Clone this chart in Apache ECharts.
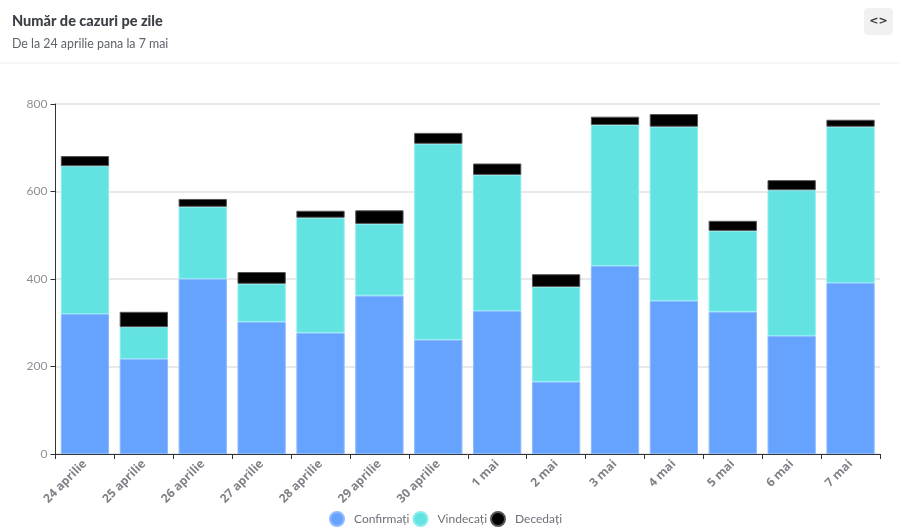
<!DOCTYPE html>
<html><head><meta charset="utf-8">
<script src="https://cdn.jsdelivr.net/npm/echarts@6/dist/echarts.min.js"></script>
<style>html,body{margin:0;padding:0;background:#fff}#c{width:900px;height:527px}</style>
</head><body><div id="c"></div>
<script>
const categories = ['24 aprilie','25 aprilie','26 aprilie','27 aprilie','28 aprilie','29 aprilie','30 aprilie','1 mai','2 mai','3 mai','4 mai','5 mai','6 mai','7 mai'];
const confirmati = [320,217,400,302,277,362,261,327,165,430,350,325,270,391];
const vindecati = [338,73,165,87,263,164,448,311,217,322,398,185,333,357];
const decedati = [23,35,18,27,16,31,25,26,29,19,29,23,23,16];
const font = 'Lato';
const chart = echarts.init(document.getElementById('c'), null, {renderer:'canvas'});
const barStyle = (c,b) => ({color:c, borderColor:b, borderWidth:1});
chart.setOption({
  animation:false,
  textStyle:{fontFamily:font},
  title:{text:'Număr de cazuri pe zile', subtext:'De la 24 aprilie pana la 7 mai', left:12, top:14, padding:0, itemGap:9,
    textStyle:{fontFamily:font,fontSize:14.5,fontWeight:900,color:'#3d4047'},
    subtextStyle:{fontFamily:font,fontSize:12.4,color:'#5f636b'}},
  graphic:[
    {type:'rect',shape:{x:0,y:62.5,width:900,height:1},style:{fill:'#eeeef3'},silent:true},
    {type:'rect',shape:{x:864,y:8,width:29,height:27,r:4},style:{fill:'#f1f1f2'},silent:true},
    {type:'text',x:878.5,y:21.5,style:{text:'<>',fontFamily:'DejaVu Sans',fontWeight:'bold',fontSize:11,fill:'#33363c',align:'center',verticalAlign:'middle'},silent:true}
  ],
  legend:{top:506,left:324,icon:'circle',itemWidth:24,itemHeight:14,itemGap:3,
    data:['Confirmați','Vindecați','Decedați'],
    textStyle:{fontFamily:font,fontSize:12,color:'#6e7079'}},
  grid:{left:55.5,right:20,top:104,bottom:73,containLabel:false},
  xAxis:{type:'category',data:categories,
    axisLine:{lineStyle:{color:'#333',width:1}},
    axisTick:{show:true,alignWithLabel:false,length:5,lineStyle:{color:'#333'}},
    axisLabel:{rotate:45,interval:0,fontFamily:'Open Sans',fontWeight:'bold',fontSize:12,color:'#808188',margin:8}},
  yAxis:{type:'value',min:0,max:800,interval:200,
    axisLine:{show:true,lineStyle:{color:'#333',width:1}},
    axisTick:{show:true,length:5,lineStyle:{color:'#333'}},
    axisLabel:{fontFamily:font,fontSize:12,color:'#8f9096',margin:8},
    splitLine:{lineStyle:{color:'#e2e2e2',width:1.5}}},
  series:[
    {name:'Confirmați',type:'bar',stack:'t',barWidth:'82%',data:confirmati,itemStyle:barStyle('#66a3ff','#8dbaff')},
    {name:'Vindecați',type:'bar',stack:'t',barWidth:'82%',data:vindecati,itemStyle:barStyle('#63e2e2','#8aeeee')},
    {name:'Decedați',type:'bar',stack:'t',barWidth:'82%',data:decedati,itemStyle:barStyle('#000000','#555555')}
  ]
});
</script></body></html>
